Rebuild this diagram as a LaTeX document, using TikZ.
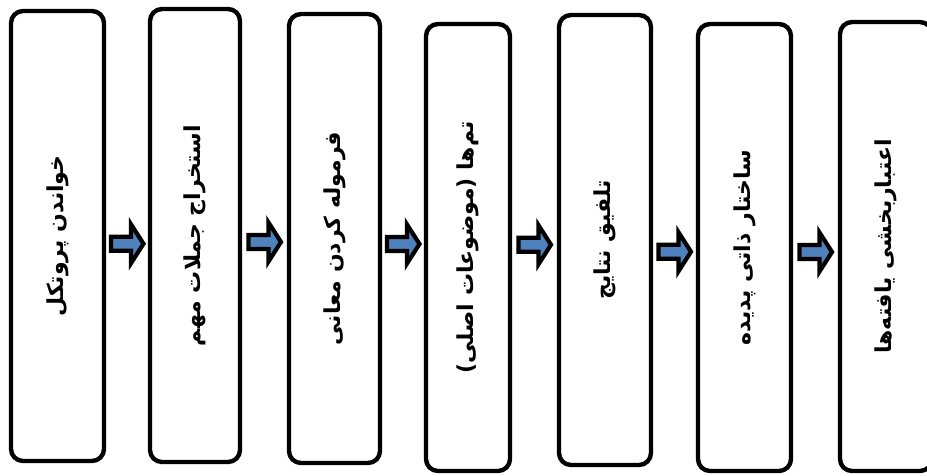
\documentclass[tikz,border=0pt]{standalone}
\usepackage{fontspec}
\usepackage{graphicx}
\usetikzlibrary{calc}
\TeXXeTstate=1
\newfontfamily\fafont[Script=Arabic]{DejaVu Sans}
\definecolor{arrowblue}{HTML}{4F81BD}
\tikzset{
  stepbox/.style={draw=black, line width=4.4pt, rounded corners=12pt, fill=white, inner sep=0pt},
  blockarrow/.style={draw=black, line width=4.2pt, fill=arrowblue, line join=miter},
}
\newcommand{\fa}[1]{\rotatebox{90}{\fafont\bfseries\fontsize{22}{25}\selectfont\beginR #1\endR}}
\begin{document}
\begin{tikzpicture}[x=1pt,y=-1pt]
\useasboundingbox (0,0) rectangle (927,475);
% boxes: center x, center y, width, height (px, y downward)
\node[stepbox, minimum width=93pt, minimum height=450pt] (b1) at (57.5,236) {\fa{خواندن پروتکل}};
\node[stepbox, minimum width=90pt, minimum height=453pt] (b2) at (195,235.5) {\fa{استخراج جملات مهم}};
\node[stepbox, minimum width=91pt, minimum height=449pt] (b3) at (334.5,238.5) {\fa{فرموله کردن معانی}};
\node[stepbox, minimum width=84pt, minimum height=447pt] (b4) at (468,247.5) {\fa{تم‌ها (موضوعات اصلی)}};
\node[stepbox, minimum width=92pt, minimum height=450pt] (b5) at (605,240) {\fa{تلفیق نتایج}};
\node[stepbox, minimum width=93pt, minimum height=447pt] (b6) at (744.5,247.5) {\fa{ساختار ذاتی پدیده}};
\node[stepbox, minimum width=92pt, minimum height=449pt] (b7) at (886,246.5) {\fa{اعتباربخشی یافته‌ها}};
% arrow midpoints
\coordinate (m1) at ($(b1.east)!0.5!(b2.west)+(0,8)$);
\coordinate (m2) at ($(b2.east)!0.5!(b3.west)+(0,5)$);
\coordinate (m3) at ($(b3.east)!0.5!(b4.west)+(0,1)$);
\coordinate (m4) at ($(b4.east)!0.5!(b5.west)+(0,1)$);
\coordinate (m5) at ($(b5.east)!0.5!(b6.west)+(0,8)$);
\coordinate (m6) at ($(b6.east)!0.5!(b7.west)+(0,5)$);
\foreach \m in {m1,m2,m3,m4,m5,m6}{
  \draw[blockarrow] ($(\m)+(-16,-7)$) -- ($(\m)+(4,-7)$) -- ($(\m)+(4,-19.5)$)
    -- ($(\m)+(16.5,0)$) -- ($(\m)+(4,19.5)$) -- ($(\m)+(4,7)$) -- ($(\m)+(-16,7)$) -- cycle;
}
\end{tikzpicture}
\end{document}
